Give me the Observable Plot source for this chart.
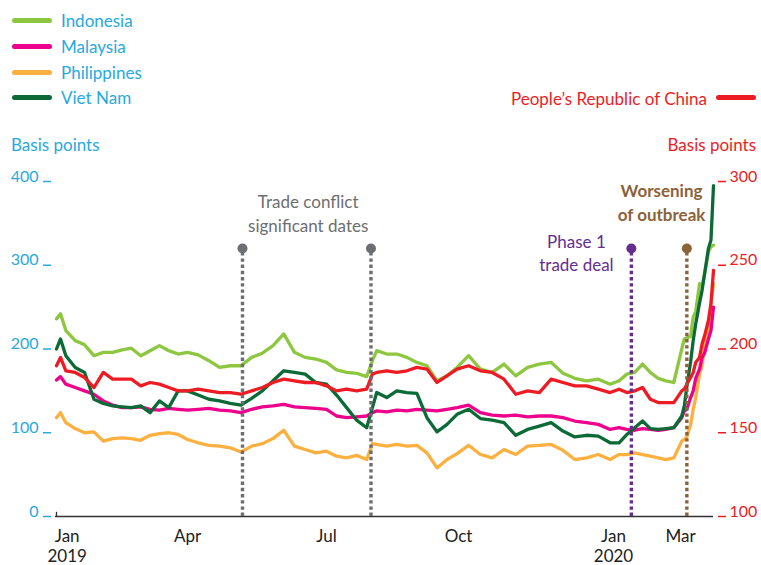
<!DOCTYPE html>
<html><head><meta charset="utf-8">
<script src="https://cdn.jsdelivr.net/npm/d3@7"></script>
<script src="https://cdn.jsdelivr.net/npm/@observablehq/plot@0.6"></script>
<style>
body{margin:0;background:#fff;font-family:Lato,sans-serif;}
#wrap{position:relative;width:761px;height:565px;overflow:hidden;background:#fff}
#chart{position:absolute;left:0;top:0}
.lab{position:absolute;font-size:17px;line-height:20px;white-space:nowrap}
.sw{position:absolute;width:40px;height:5px;border-radius:3px}
</style></head><body>
<div id="wrap"><div id="chart"></div></div>
<script>
// ---- data ----
const dates = ["2018-12-24","2018-12-27","2018-12-31","2019-01-07","2019-01-14","2019-01-21","2019-01-28","2019-02-04","2019-02-11","2019-02-18","2019-02-25","2019-03-04","2019-03-11","2019-03-18","2019-03-25","2019-04-01","2019-04-08","2019-04-15","2019-04-22","2019-04-29","2019-05-06","2019-05-13","2019-05-20","2019-05-27","2019-06-03","2019-06-10","2019-06-17","2019-06-24","2019-07-01","2019-07-08","2019-07-15","2019-07-22","2019-07-29","2019-08-02","2019-08-05","2019-08-12","2019-08-19","2019-08-26","2019-09-02","2019-09-09","2019-09-16","2019-09-23","2019-09-30","2019-10-07","2019-10-14","2019-10-21","2019-10-28","2019-11-04","2019-11-11","2019-11-18","2019-11-25","2019-12-02","2019-12-09","2019-12-16","2019-12-23","2019-12-30","2020-01-06","2020-01-13","2020-01-20","2020-01-27","2020-02-03","2020-02-10","2020-02-17","2020-02-24","2020-03-02","2020-03-04","2020-03-06","2020-03-09","2020-03-11","2020-03-13","2020-03-16","2020-03-18","2020-03-20","2020-03-23","2020-03-25","2020-03-27"];

const indonesia = [236,242,222,210,205,192,196,196,199,201,192,198,204,198,194,196,193,186,178,180,180,190,195,204,218,196,190,188,184,175,172,171,167,186,198,194,194,190,184,180,162,168,178,192,176,172,182,168,178,182,184,171,165,162,164,158,162,170,172,182,172,165,162,160,200,212,213,215,238,245,278,275,290,316,322,324];
const malaysia = [163,167,158,154,150,146,138,133,130,130,131,128,127,129,128,127,128,129,127,126,124,128,131,132,134,131,130,129,128,120,118,119,120,124,126,125,127,126,128,127,126,128,130,133,124,121,120,121,119,120,120,118,114,112,110,104,106,104,103,105,104,103,104,106,118,126,128,142,150,165,176,190,195,212,222,250];
const philippines = [118,124,112,105,100,101,90,93,94,93,91,97,99,100,98,92,88,85,84,82,77,84,87,93,103,84,80,76,78,72,70,73,68,87,86,84,86,84,85,76,58,68,75,85,74,70,80,74,84,85,86,79,68,70,74,68,74,74,76,74,72,70,68,70,90,92,95,110,128,142,170,180,205,225,254,278];
const vietnam = [200,212,192,178,172,140,135,132,131,130,132,124,138,130,150,150,145,140,138,135,133,141,150,162,174,172,170,160,158,145,130,115,106,130,148,142,150,148,147,118,101,110,122,128,117,115,112,97,104,108,112,102,95,97,96,88,88,98,106,114,105,104,105,106,120,132,155,185,210,230,255,270,290,320,330,395];
const china = [190,195,187,186,183,177,186,182,182,182,178,180,179,177,175,175,176,175,174,174,173,175,177,180,182,181,180,180,178,175,176,175,176,185,186,187,186,187,189,188,180,184,188,190,187,186,182,173,175,174,182,180,178,178,176,174,176,174,175,177,170,168,168,168,175,176,179,183,186,192,195,203,208,217,227,247];

const leftNames = ["Indonesia","Malaysia","Philippines","Viet Nam"];
const chinaName = "People\u2019s Republic of China";
const yTicks = [0,100,200,300,400];
const xTickDates = ["2019-01-01","2019-04-01","2019-07-01","2019-10-01","2020-01-01","2020-03-01"];
const xTickLabels = ["Jan\n2019","Apr","Jul","Oct","Jan\n2020","Mar"];
const eventDates = ["2019-05-07","2019-08-01","2020-01-17","2020-03-06"];
const eventKinds = ["trade","trade","deal","covid"];
const noteDates = ["2019-06-19","2019-12-10","2020-02-13"];
const noteTexts = ["Trade conflict\nsignificant dates","Phase 1\ntrade deal","Worsening\nof outbreak"];
const noteKinds = ["trade","deal","covid"];
const noteLevels = [363, 316, 376];
const eventLevel = 320;

// ---- styles ----
const BLUE = "#27a9e1", RED = "#ed1c24";
const colors = {"Indonesia":"#8dc63f","Malaysia":"#ec008c","Philippines":"#fbb040","Viet Nam":"#0b6a35"};
const kindColor = {trade:"#6d6e71", deal:"#662d91", covid:"#8c6239"};

const parse = d3.utcParse("%Y-%m-%d");
const D = dates.map(parse);
const mk = (vals, f = v => v) => vals.map((v, i) => ({date: D[i], y: f(v)}));
const seriesData = {
  "Indonesia": mk(indonesia), "Malaysia": mk(malaysia),
  "Philippines": mk(philippines), "Viet Nam": mk(vietnam)
};
const chinaData = mk(china, v => (v - 100) * 2);
const events = eventDates.map((d, i) => ({date: parse(d), color: kindColor[eventKinds[i]]}));
const notes = noteDates.map((d, i) => ({date: parse(d), text: noteTexts[i], color: kindColor[noteKinds[i]], y: noteLevels[i], bold: noteKinds[i] === "covid"}));
const tickMap = new Map(xTickDates.map((d, i) => [+parse(d), xTickLabels[i]]));

const xAnchors = ["2018-12-24","2019-04-01","2019-07-01","2019-10-01","2020-01-01","2020-03-01","2020-03-27"].map(parse);

const marks = [
  Plot.ruleY([0], {stroke: "#333", strokeWidth: 1.3}),
  Plot.ruleX([D[0]], {y1: 0, y2: 5, stroke: "#333", strokeWidth: 1.3}),
];
for (const name of ["Philippines","Malaysia","Indonesia","Viet Nam"]) {
  marks.push(Plot.line(seriesData[name], {x: "date", y: "y", stroke: colors[name], strokeWidth: 3.3, strokeLinejoin: "round"}));
}
marks.push(Plot.line(chinaData, {x: "date", y: "y", stroke: RED, strokeWidth: 3.3, strokeLinejoin: "round"}));
marks.push(
  Plot.ruleX(events, {x: "date", y1: 0, y2: eventLevel, stroke: "color", strokeWidth: 3.4, strokeDasharray: "3.4,2.8"}),
  Plot.dot(events, {x: "date", y: eventLevel, r: 5, fill: "color", stroke: null}),
  Plot.text(notes.filter(d => !d.bold), {x: "date", y: "y", text: "text", fill: "color", fontSize: 17, lineHeight: 1.38}),
  Plot.text(notes.filter(d => d.bold), {x: "date", y: "y", text: "text", fill: "color", fontSize: 17, lineHeight: 1.38, fontWeight: "bold"}),
  Plot.axisY({anchor: "left", ticks: yTicks, tickSize: 8, tickPadding: 5, dx: -4, color: BLUE, fill: BLUE, stroke: BLUE, strokeWidth: 1.5, fontSize: 16, lineAnchor: "bottom", label: null}),
  Plot.axisY({anchor: "right", ticks: yTicks, tickFormat: d => String(d / 2 + 100), tickSize: 8, tickPadding: 4, dx: 4, color: RED, fill: RED, stroke: RED, strokeWidth: 1.5, fontSize: 16, lineAnchor: "bottom", label: null}),
  Plot.axisX({ticks: xTickDates.map(parse), tickFormat: d => tickMap.get(+d), tickSize: 0, tickPadding: 12, fontSize: 17, color: "#222", fill: "#222", label: null, lineHeight: 1.15})
);

const chart = Plot.plot({
  width: 761, height: 565,
  marginLeft: 55, marginRight: 48, marginTop: 181, marginBottom: 49,
  x: {type: "utc", domain: xAnchors, range: [56, 187, 326, 458, 613, 680, 713]},
  y: {domain: [0, 400]},
  color: {type: "identity"},
  style: {fontFamily: "Lato, sans-serif", background: "transparent", overflow: "visible"},
  marks
});
document.getElementById("chart").appendChild(chart);

// ---- legend & axis titles (HTML) ----
const wrap = document.getElementById("wrap");
function add(cls, css, text) {
  const el = document.createElement("div");
  el.className = cls;
  Object.assign(el.style, css);
  if (text !== undefined) el.textContent = text;
  wrap.appendChild(el);
}
const rowY = [20, 46, 72, 97];
leftNames.forEach((n, i) => {
  add("sw", {left: "12px", top: (rowY[i] - 2.5) + "px", background: colors[n]});
  add("lab", {left: "61px", top: (rowY[i] - 9) + "px", color: BLUE}, n);
});
add("sw", {left: "716px", top: (97 - 2.5) + "px", background: RED});
add("lab", {right: "54px", top: (98 - 9) + "px", color: RED}, chinaName);
add("lab", {left: "11px", top: (144 - 9) + "px", color: BLUE}, "Basis points");
add("lab", {right: "5px", top: (144 - 9) + "px", color: RED}, "Basis points");
</script>
</body></html>
